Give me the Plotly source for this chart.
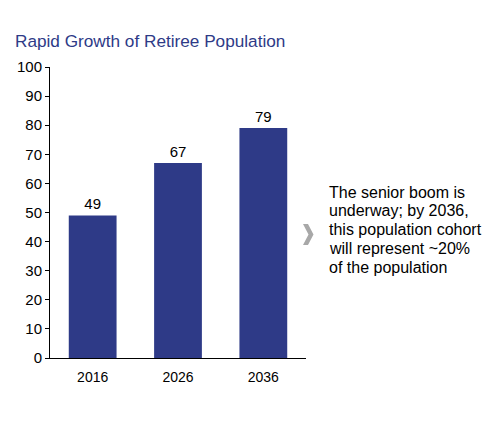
import plotly.graph_objects as go

# data
years = ["2016", "2026", "2036"]
retirees = [49, 67, 79]
note_lines = [
    "The senior boom is",
    "underway; by 2036,",
    "this population cohort",
    "will represent ~20%",
    "of the population",
]

# pixel layout of the plot area (page is 486 x 432, body margin removed below)
W, H = 486, 432
left, right, top, bottom = 50, 306, 67, 358


def px(x):
    return (x - left) / (right - left)


def py(y):
    return (bottom - y) / (bottom - top)


fig = go.Figure()

fig.add_trace(go.Bar(
    x=years,
    y=retirees,
    marker=dict(color="#2e3a87", line=dict(width=0)),
    text=retirees,
    textposition="outside",
    textfont=dict(color="#000000", size=15),
    cliponaxis=False,
))

# grey chevron pointing at the comment
pts = [(303, 224), (308, 224), (313.5, 234.5), (308, 245), (303, 245), (308.5, 234.5)]
path = "M " + " L ".join(f"{px(a):.4f},{py(b):.4f}" for a, b in pts) + " Z"
fig.add_shape(type="path", xref="paper", yref="paper", path=path,
              fillcolor="#a8a8a8", line=dict(width=0))

for i, line in enumerate(note_lines):
    fig.add_annotation(
        xref="paper", yref="paper",
        x=px(327), y=py(192 + i * 18.8),
        xanchor="left", yanchor="middle", align="left",
        showarrow=False,
        text=line,
        font=dict(size=16, color="#000000"),
    )

fig.update_layout(
    width=W, height=H,
    margin=dict(l=left, r=W - right, t=top, b=H - bottom),
    paper_bgcolor="white",
    plot_bgcolor="white",
    font=dict(family="Arial, Liberation Sans, sans-serif", color="#000000", size=14),
    showlegend=False,
    bargap=0.44,
    title=dict(
        text="Rapid Growth of Retiree Population",
        x=15 / W, xanchor="left",
        y=1 - 41 / H, yanchor="middle",
        font=dict(size=17.2, color="#2e3a87"),
    ),
    xaxis=dict(
        showline=True, linecolor="#000000", linewidth=1,
        ticks="", showgrid=False, zeroline=False,
        tickfont=dict(size=14),
        ticklabelstandoff=6,
    ),
    yaxis=dict(
        range=[0, 100], dtick=10,
        showline=True, linecolor="#000000", linewidth=1,
        ticks="outside", ticklen=4, tickcolor="#000000",
        showgrid=False, zeroline=False,
        tickfont=dict(size=15),
    ),
)

fig.write_html(
    "out.html",
    config={"displayModeBar": False},
    post_script="document.body.style.margin='0';document.body.style.overflow='hidden';",
)
